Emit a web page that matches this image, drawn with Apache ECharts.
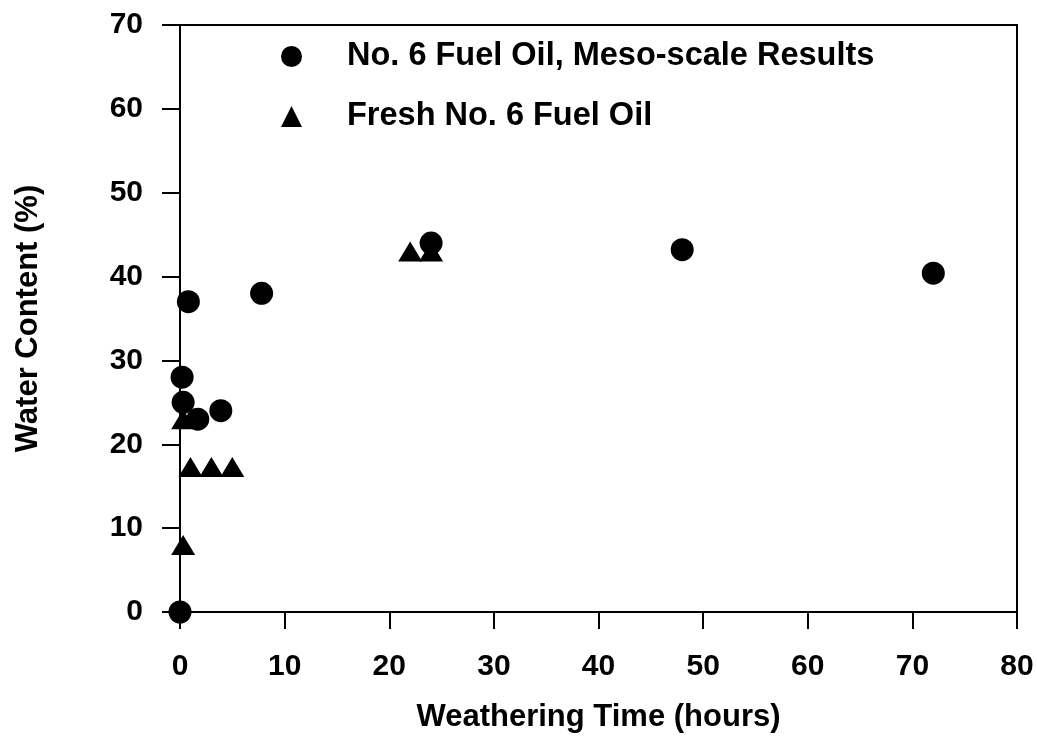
<!DOCTYPE html>
<html>
<head>
<meta charset="utf-8">
<script src="https://cdn.jsdelivr.net/npm/echarts@6/dist/echarts.min.js"></script>
<style>
  html, body { margin: 0; padding: 0; background: #fff; }
  #chart { width: 1037px; height: 738px; }
</style>
</head>
<body>
<div id="chart"></div>
<script>
// 数据
var mesoHours = [0, 0.2, 0.3, 0.8, 1.7, 3.9, 7.8, 24, 48, 72];
var mesoWater = [0, 28, 25, 37, 23, 24, 38, 44, 43.2, 40.4];
var freshHours = [0.3, 0.3, 1, 3, 5, 22, 24];
var freshWater = [8, 23, 17.3, 17.3, 17.3, 43, 43];

function pairs(xs, ys) {
  return xs.map(function (x, i) { return [x, ys[i]]; });
}

var font = 'Liberation Sans, Arial, sans-serif';
var chart = echarts.init(document.getElementById('chart'));

var option = {
  animation: false,
  backgroundColor: '#fff',
  grid: {
    left: 180,
    right: 20,
    top: 25,
    bottom: 122,
    show: true,
    borderColor: '#000',
    borderWidth: 2
  },
  legend: {
    orient: 'vertical',
    left: 276,
    top: 35,
    itemGap: 27,
    itemWidth: 21,
    itemHeight: 21,
    selectedMode: false,
    textStyle: {
      fontFamily: font,
      fontWeight: 'bold',
      fontSize: 32.5,
      color: '#000',
      padding: [0, 0, 0, 40]
    },
    data: [
      { name: 'No. 6 Fuel Oil, Meso-scale Results', icon: 'circle' },
      { name: 'Fresh No. 6 Fuel Oil', icon: 'triangle' }
    ]
  },
  xAxis: {
    type: 'value',
    min: 0,
    max: 80,
    interval: 10,
    name: 'Weathering Time (hours)',
    nameLocation: 'middle',
    nameGap: 90,
    nameTextStyle: {
      fontFamily: font,
      fontWeight: 'bold',
      fontSize: 31,
      color: '#000'
    },
    axisLine: { onZero: false, lineStyle: { color: '#000', width: 2 } },
    axisTick: { show: true, length: 17, lineStyle: { color: '#000', width: 2 } },
    axisLabel: {
      margin: 40,
      fontFamily: font,
      fontWeight: 'bold',
      fontSize: 30,
      color: '#000'
    },
    splitLine: { show: false }
  },
  yAxis: {
    type: 'value',
    min: 0,
    max: 70,
    interval: 10,
    name: 'Water Content (%)',
    nameLocation: 'middle',
    nameGap: 136,
    nameRotate: 90,
    nameTextStyle: {
      fontFamily: font,
      fontWeight: 'bold',
      fontSize: 31,
      color: '#000'
    },
    axisLine: { onZero: false, lineStyle: { color: '#000', width: 2 } },
    axisTick: { show: true, length: 18, lineStyle: { color: '#000', width: 2 } },
    axisLabel: {
      margin: 37,
      fontFamily: font,
      fontWeight: 'bold',
      fontSize: 30,
      color: '#000'
    },
    splitLine: { show: false }
  },
  series: [
    {
      name: 'Fresh No. 6 Fuel Oil',
      type: 'scatter',
      symbol: 'triangle',
      symbolSize: [24, 20],
      itemStyle: { color: '#000', opacity: 1 },
      data: pairs(freshHours, freshWater),
      z: 2
    },
    {
      name: 'No. 6 Fuel Oil, Meso-scale Results',
      type: 'scatter',
      symbol: 'circle',
      symbolSize: 23,
      itemStyle: { color: '#000', opacity: 1 },
      data: pairs(mesoHours, mesoWater),
      z: 3
    }
  ]
};

chart.setOption(option);
</script>
</body>
</html>
